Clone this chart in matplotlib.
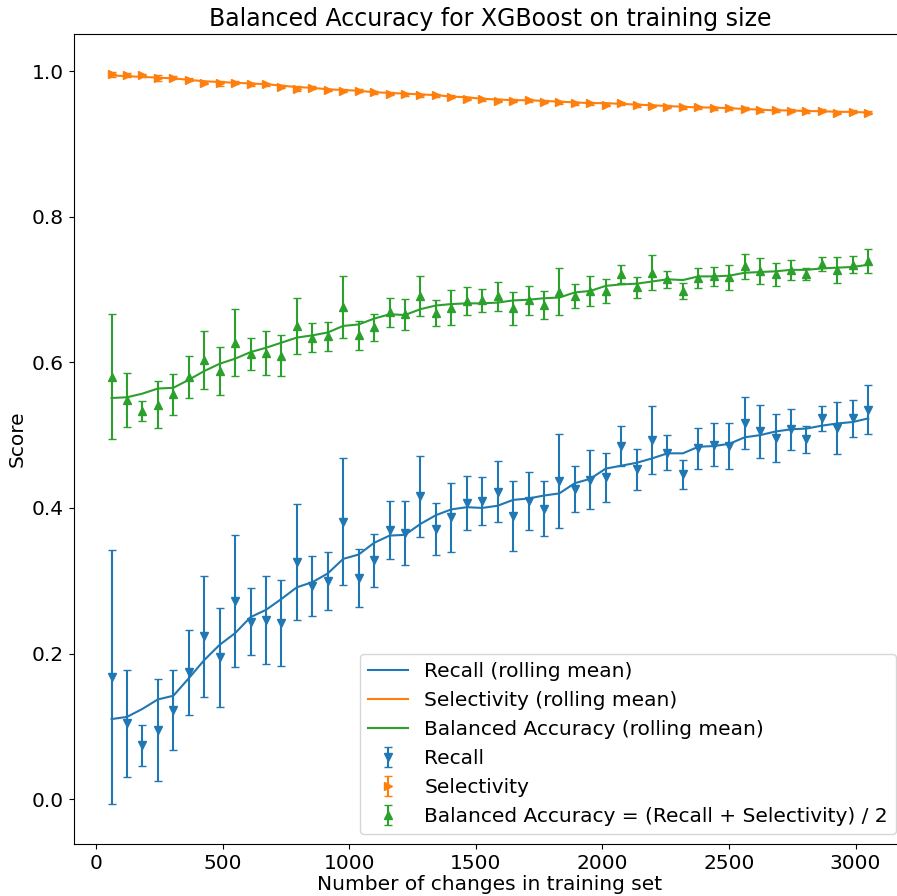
#!/usr/bin/env python3
# balanced accuracy of the XGBoost model vs. number of changes used for training
# recall / selectivity / balanced accuracy with std error bars + rolling means

import numpy as np
import matplotlib
matplotlib.use("Agg")
import matplotlib.pyplot as plt

# training set sizes (number of changes)
train_sizes = [61 * i for i in range(1, 51)]

recall = [0.168, 0.104, 0.074, 0.095, 0.123, 0.174, 0.224, 0.195, 0.272, 0.244,
          0.246, 0.242, 0.326, 0.293, 0.300, 0.381, 0.304, 0.328, 0.370, 0.365,
          0.416, 0.371, 0.387, 0.407, 0.409, 0.422, 0.389, 0.410, 0.399, 0.437,
          0.426, 0.439, 0.442, 0.485, 0.453, 0.493, 0.476, 0.446, 0.482, 0.487,
          0.485, 0.517, 0.505, 0.496, 0.508, 0.494, 0.523, 0.510, 0.523, 0.535]
recall_std = [0.174, 0.074, 0.028, 0.070, 0.055, 0.059, 0.083, 0.068, 0.091, 0.046,
              0.061, 0.059, 0.080, 0.041, 0.040, 0.087, 0.040, 0.036, 0.040, 0.044,
              0.056, 0.036, 0.047, 0.037, 0.033, 0.042, 0.048, 0.040, 0.038, 0.064,
              0.032, 0.041, 0.034, 0.027, 0.028, 0.047, 0.024, 0.020, 0.028, 0.029,
              0.032, 0.036, 0.036, 0.033, 0.028, 0.018, 0.017, 0.036, 0.025, 0.034]
recall_roll = [0.110, 0.113, 0.124, 0.137, 0.142, 0.166, 0.191, 0.212, 0.228, 0.250,
               0.260, 0.275, 0.291, 0.298, 0.310, 0.330, 0.336, 0.352, 0.362, 0.363,
               0.378, 0.390, 0.398, 0.401, 0.400, 0.403, 0.411, 0.413, 0.417, 0.420,
               0.434, 0.440, 0.454, 0.458, 0.462, 0.468, 0.475, 0.475, 0.484, 0.485,
               0.488, 0.497, 0.500, 0.505, 0.508, 0.509, 0.513, 0.516, 0.518, 0.523]

selectivity = [0.9955, 0.9945, 0.994, 0.991, 0.991, 0.988, 0.984, 0.983, 0.984, 0.982,
               0.982, 0.9785, 0.976, 0.977, 0.974, 0.973, 0.973, 0.971, 0.969, 0.968,
               0.967, 0.967, 0.965, 0.962, 0.961, 0.959, 0.959, 0.960, 0.958, 0.957,
               0.956, 0.956, 0.954, 0.956, 0.953, 0.952, 0.951, 0.950, 0.950, 0.949,
               0.949, 0.948, 0.946, 0.946, 0.9455, 0.9446, 0.9455, 0.943, 0.944, 0.943]
selectivity_std = [0.003, 0.003, 0.002, 0.004, 0.002, 0.002, 0.002, 0.004, 0.002, 0.002,
                   0.002, 0.002, 0.004, 0.002, 0.002, 0.002, 0.002, 0.002, 0.002, 0.002,
                   0.002, 0.002, 0.002, 0.002, 0.002, 0.002, 0.002, 0.002, 0.002, 0.002,
                   0.002, 0.002, 0.002, 0.002, 0.002, 0.002, 0.002, 0.002, 0.002, 0.002,
                   0.002, 0.002, 0.002, 0.002, 0.002, 0.002, 0.002, 0.002, 0.002, 0.002]
selectivity_roll = [0.994, 0.993, 0.992, 0.991, 0.990, 0.988, 0.986, 0.985, 0.984, 0.983,
                    0.982, 0.980, 0.978, 0.977, 0.975, 0.974, 0.973, 0.971, 0.970, 0.969,
                    0.968, 0.967, 0.965, 0.964, 0.962, 0.961, 0.960, 0.960, 0.959, 0.958,
                    0.957, 0.956, 0.956, 0.955, 0.954, 0.953, 0.952, 0.951, 0.950, 0.950,
                    0.949, 0.948, 0.947, 0.946, 0.946, 0.945, 0.945, 0.944, 0.944, 0.943]

balanced = [0.580, 0.548, 0.533, 0.542, 0.556, 0.580, 0.603, 0.588, 0.627, 0.612,
            0.613, 0.609, 0.650, 0.634, 0.636, 0.676, 0.637, 0.648, 0.669, 0.666,
            0.691, 0.668, 0.675, 0.684, 0.685, 0.691, 0.674, 0.685, 0.679, 0.697,
            0.691, 0.698, 0.698, 0.721, 0.703, 0.723, 0.714, 0.698, 0.716, 0.718,
            0.717, 0.732, 0.725, 0.721, 0.727, 0.721, 0.735, 0.727, 0.734, 0.739]
balanced_std = [0.086, 0.037, 0.014, 0.032, 0.028, 0.029, 0.040, 0.033, 0.046, 0.022,
                0.030, 0.028, 0.039, 0.020, 0.020, 0.043, 0.020, 0.019, 0.020, 0.021,
                0.028, 0.018, 0.024, 0.019, 0.016, 0.020, 0.023, 0.020, 0.019, 0.032,
                0.016, 0.020, 0.017, 0.012, 0.014, 0.024, 0.012, 0.011, 0.014, 0.013,
                0.017, 0.017, 0.018, 0.016, 0.014, 0.008, 0.009, 0.018, 0.012, 0.017]
balanced_roll = [0.551, 0.552, 0.557, 0.564, 0.565, 0.576, 0.588, 0.598, 0.605, 0.614,
                 0.620, 0.627, 0.634, 0.637, 0.641, 0.650, 0.652, 0.660, 0.666, 0.665,
                 0.673, 0.678, 0.680, 0.681, 0.681, 0.682, 0.685, 0.686, 0.688, 0.689,
                 0.696, 0.698, 0.705, 0.707, 0.708, 0.711, 0.714, 0.713, 0.718, 0.718,
                 0.719, 0.723, 0.724, 0.725, 0.727, 0.727, 0.729, 0.730, 0.731, 0.734]

FS = 14.5

fig = plt.figure(figsize=(8.97, 8.96), dpi=100)
# axes runs a bit past the right edge of the canvas
ax = fig.add_axes([0.0822, 0.0577, 0.9279, 0.9044])
ax.spines['right'].set_visible(False)

ax.plot(train_sizes, recall_roll, color='C0', label='Recall (rolling mean)')
ax.plot(train_sizes, selectivity_roll, color='C1', label='Selectivity (rolling mean)')
ax.plot(train_sizes, balanced_roll, color='C2', label='Balanced Accuracy (rolling mean)')

ax.errorbar(train_sizes, recall, yerr=recall_std, fmt='v', color='C0',
            capsize=3, label='Recall')
ax.errorbar(train_sizes, selectivity, yerr=selectivity_std, fmt='>', color='C1',
            capsize=3, label='Selectivity')
ax.errorbar(train_sizes, balanced, yerr=balanced_std, fmt='^', color='C2',
            capsize=3, label='Balanced Accuracy = (Recall + Selectivity) / 2')

ax.set_ylim(-0.062, 1.051)
ax.set_title('Balanced Accuracy for XGBoost on training size', fontsize=17)
ax.set_xlabel('Number of changes in training set', fontsize=FS, labelpad=1.5)
ax.set_ylabel('Score', fontsize=FS)
ax.tick_params(labelsize=FS)
ax.legend(loc='lower right', fontsize=FS)

plt.savefig('out.png', dpi=100)
